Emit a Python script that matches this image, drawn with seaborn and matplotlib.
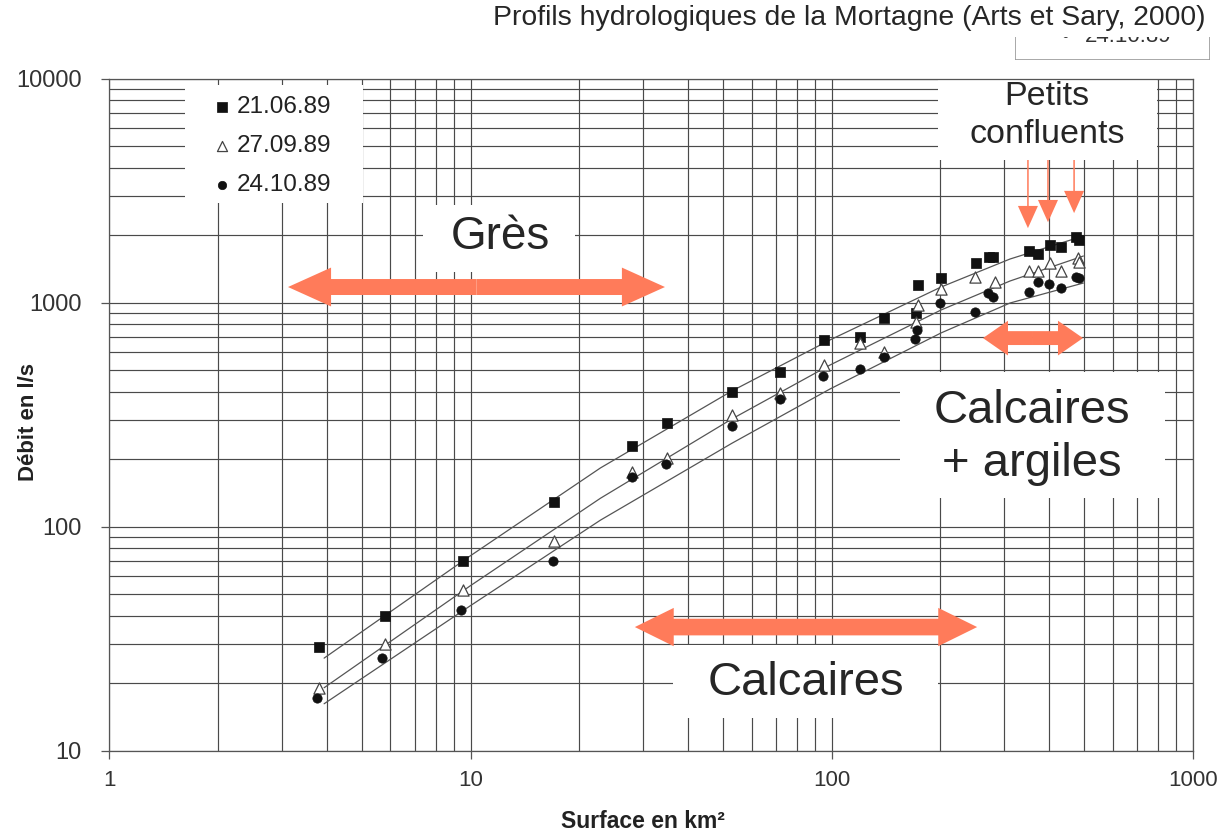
import matplotlib
matplotlib.use("Agg")
import matplotlib.pyplot as plt
import seaborn as sns
from matplotlib.patches import Rectangle, FancyArrowPatch
from matplotlib.ticker import NullFormatter

# Hydrological profiles of the Mortagne: surface (km2) vs discharge (l/s)
dates = ["21.06.89", "27.09.89", "24.10.89"]

area_jun = [3.8, 5.8, 9.5, 17, 28, 35, 53, 72, 95, 120, 140, 171, 174, 201,
            251, 272, 280, 353, 374, 403, 431, 476, 483]
flow_jun = [29, 40, 70, 129, 229, 289, 400, 489, 682, 701, 857, 897, 1196, 1293,
            1499, 1605, 1605, 1707, 1650, 1815, 1767, 1959, 1905]

area_sep = [3.8, 5.8, 9.5, 17, 28, 35, 53, 72, 95, 120, 140, 171, 174, 201,
            250, 283, 353, 372, 403, 431, 480, 483]
flow_sep = [19, 30, 52, 86, 175, 202, 315, 394, 527, 663, 604, 823, 977, 1148,
            1298, 1241, 1389, 1389, 1499, 1389, 1583, 1524]

area_oct = [3.75, 5.7, 9.4, 16.9, 28, 34.8, 52.9, 72, 94.5, 120, 140, 170, 172, 200,
            250, 271, 280, 351, 372, 401, 431, 476, 483]
flow_oct = [17.2, 25.8, 42.6, 70.5, 166, 190, 281, 372, 472, 504, 574, 686, 755, 1000,
            912, 1108, 1063, 1120, 1241, 1212, 1160, 1298, 1285]

# fitted curves drawn on the original figure
fit_area = [3.93, 9.97, 22.9, 53, 99, 201, 312, 498]
fit_jun = [25.9, 74, 183, 404, 682, 1175, 1567, 1985]
fit_sep = [19.1, 54.4, 134, 303, 527, 928, 1250, 1616]
fit_oct = [16.2, 44.3, 107, 236, 412, 733, 997, 1224]

xticks = [1, 10, 100, 1000]
yticks = [10, 100, 1000, 10000]

CORAL = "#ff7b5a"

sns.set_style("white")
plt.rcParams["font.family"] = ["Liberation Sans", "DejaVu Sans"]

fig = plt.figure(figsize=(12.21, 8.35), dpi=100)
ax = fig.add_axes([0.08968, 0.10096, 0.88714, 0.80479])

# fitted lines
for y in (fit_jun, fit_sep, fit_oct):
    sns.lineplot(x=fit_area, y=y, color="#555555", lw=0.9, estimator=None,
                 sort=False, ax=ax, zorder=2)

# measured points
sns.scatterplot(x=area_jun, y=flow_jun, marker="s", color="#111111", edgecolor="#111111",
                s=55, linewidth=0.5, ax=ax, label=dates[0], zorder=3)
sns.scatterplot(x=area_sep, y=flow_sep, marker="^", color="white", edgecolor="#444444",
                s=65, linewidth=0.9, ax=ax, label=dates[1], zorder=3)
sns.scatterplot(x=area_oct, y=flow_oct, marker="o", color="#111111", edgecolor="#111111",
                s=45, linewidth=0.5, ax=ax, label=dates[2], zorder=3)

ax.set(xscale="log", yscale="log", xlim=(1, 1000), ylim=(10, 10000))
ax.set_xticks(xticks, labels=[str(v) for v in xticks])
ax.set_yticks(yticks, labels=[str(v) for v in yticks])
ax.xaxis.set_minor_formatter(NullFormatter())
ax.yaxis.set_minor_formatter(NullFormatter())
ax.grid(True, which="both", color="#4a4a4a", lw=0.85)
ax.set_axisbelow(True)
ax.tick_params(which="major", left=True, bottom=True, length=6, width=0.9,
               color="#555555", labelcolor="#333333")
ax.tick_params(which="minor", length=0)
ax.tick_params(axis="y", pad=14, labelsize=17)
ax.tick_params(axis="x", pad=8, labelsize=16)
for sp in ax.spines.values():
    sp.set_color("#555555")
    sp.set_linewidth(0.9)

ax.set_xlabel("Surface en km²", fontsize=16.5, fontweight="bold", color="#222222", va="center")
ax.xaxis.set_label_coords(0.4925, -0.106)
ax.set_ylabel("Débit en l/s", fontsize=16, fontweight="bold", color="#222222", va="center")
ax.yaxis.set_label_coords(-0.0752, 0.489)


def white_box(x0, y0, x1, y1):
    ax.add_patch(Rectangle((x0, y0), x1 - x0, y1 - y0, transform=ax.transAxes,
                           facecolor="white", edgecolor="none", zorder=1, clip_on=False))


def double_arrow(x0, x1, y, hl, hw, tw):
    mid = (x0 + x1) / 2
    for end in (x0, x1):
        ax.add_patch(FancyArrowPatch(
            (mid, y), (end, y), transform=ax.transAxes,
            arrowstyle=f"simple,head_length={hl},head_width={hw},tail_width={tw}",
            mutation_scale=1, color=CORAL, lw=0, shrinkA=0, shrinkB=0,
            zorder=4, clip_on=False))


# legend
white_box(0.0697, 0.815, 0.234, 0.9906)
ax.legend(loc="upper left", bbox_to_anchor=(0.0928, 0.9742), frameon=False,
          fontsize=17.5, labelspacing=0.7, handletextpad=0.1, handlelength=1.0,
          borderpad=0, borderaxespad=0, markerscale=0.9, labelcolor="#222222")

# Grès
white_box(0.2894, 0.7124, 0.4298, 0.812)
ax.text(0.3605, 0.7644, "Grès", fontsize=33, ha="center", va="center",
        transform=ax.transAxes, zorder=5)
double_arrow(0.1648, 0.5128, 0.690, 31, 28, 11.5)

# Calcaires
white_box(0.520, 0.0487, 0.7648, 0.1573)
ax.text(0.643, 0.1007, "Calcaires", fontsize=34, ha="center", va="center",
        transform=ax.transAxes, zorder=5)
double_arrow(0.485, 0.801, 0.184, 28, 27.6, 12)

# Calcaires + argiles
white_box(0.7298, 0.376, 0.9744, 0.5636)
ax.text(0.8517, 0.466, "Calcaires\n+ argiles", fontsize=34, ha="center", va="center",
        linespacing=1.29, transform=ax.transAxes, zorder=5)
double_arrow(0.8064, 0.8987, 0.614, 18, 25, 10)

# Petits confluents
white_box(0.7648, 0.879, 0.9671, 1.013)
ax.text(0.8655, 0.9455, "Petits\nconfluents", fontsize=24.5, ha="center", va="center",
        linespacing=1.27, transform=ax.transAxes, zorder=5)
for x, tip in ((0.8479, 0.7776), (0.8664, 0.7865), (0.8905, 0.800)):
    ax.add_patch(FancyArrowPatch(
        (x, 0.879), (x, tip), transform=ax.transAxes,
        arrowstyle="simple,head_length=16,head_width=14.4,tail_width=1.1",
        mutation_scale=1, color=CORAL, lw=0, shrinkA=0, shrinkB=0, zorder=4))

# title
fig.text(0.9869, 0.979, "Profils hydrologiques de la Mortagne (Arts et Sary, 2000)",
         fontsize=20.4, ha="right", va="center")

# cropped remnant of a second legend at top right
cax = fig.add_axes([1015 / 1221, 1 - 60 / 835, 195 / 1221, 23 / 835])
cax.set_xlim(0, 1)
cax.set_ylim(0, 1)
cax.axis("off")
cax.plot([0, 0, 1, 1], [1, 0, 0, 1], color="#999999", lw=1.2)
cax.text(0.256, 1.0, "•", fontsize=16, color="#333333", ha="center", va="center", clip_on=True)
cax.text(0.359, 1.0, "24.10.89", fontsize=16, color="#333333", ha="left", va="center", clip_on=True)

fig.savefig("out.png", dpi=100)
